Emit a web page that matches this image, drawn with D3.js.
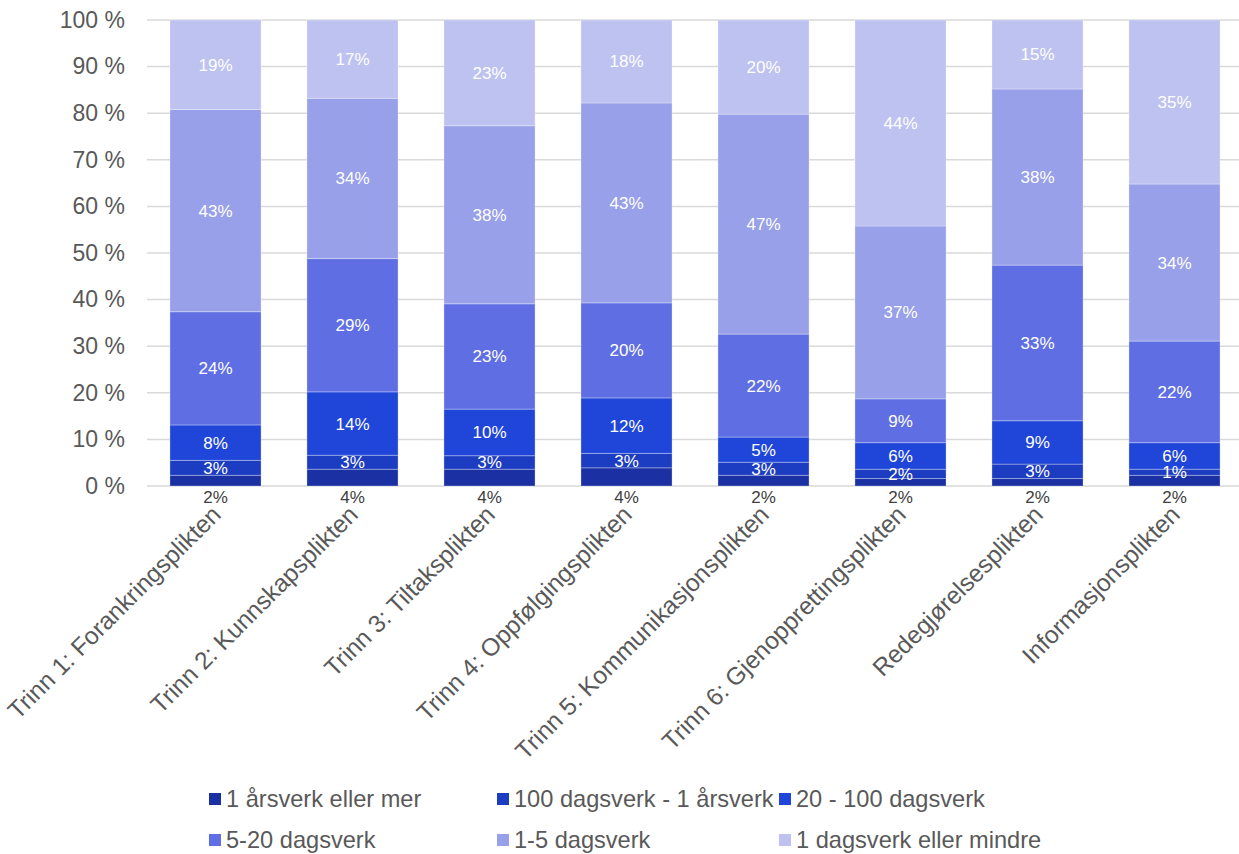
<!DOCTYPE html>
<html><head><meta charset="utf-8">
<script src="https://cdn.jsdelivr.net/npm/d3@7/dist/d3.min.js"></script>
<style>
body{margin:0;background:#fff;}
svg{display:block;font-family:"Liberation Sans",Arial,sans-serif;}
</style></head>
<body><svg id="chart" width="1239" height="854"></svg>
<script>
const categories = ["Trinn 1: Forankringsplikten","Trinn 2: Kunnskapsplikten","Trinn 3: Tiltaksplikten","Trinn 4: Oppfølgingsplikten","Trinn 5: Kommunikasjonsplikten","Trinn 6: Gjenopprettingsplikten","Redegjørelsesplikten","Informasjonsplikten"];
const seriesNames = ["1 årsverk eller mer","100 dagsverk - 1 årsverk","20 - 100 dagsverk","5-20 dagsverk","1-5 dagsverk","1 dagsverk eller mindre"];
const s1 = [2.3, 3.6, 3.6, 3.9, 2.3, 1.6, 1.6, 2.3];
const s2 = [3.2, 3.0, 2.9, 3.1, 2.8, 2.0, 3.1, 1.3];
const s3 = [7.6, 13.6, 10.0, 11.9, 5.4, 5.7, 9.3, 5.7];
const s4 = [24.3, 28.6, 22.6, 20.4, 22.1, 9.4, 33.4, 21.8];
const s5 = [43.4, 34.4, 38.2, 42.9, 47.2, 37.1, 37.8, 33.7];
const s6 = [19.2, 16.8, 22.7, 17.8, 20.2, 44.2, 14.8, 35.2];
const seriesValues = [s1, s2, s3, s4, s5, s6];
const colors = ["#1a30a3","#1c3cc2","#1f46d8","#5f6fe3","#97a0e8","#bec2f0"];
const yTicks = [0,10,20,30,40,50,60,70,80,90,100];

const svg = d3.select("#chart");
const y = d3.scaleLinear().domain([0,100]).range([486,20]);
const x = d3.scaleBand().domain(categories).range([147,1243]).paddingInner(0.335).paddingOuter(0.1675);

// gridlines
svg.append("g").selectAll("line").data(yTicks).join("line")
  .attr("x1",147).attr("x2",1239).attr("y1",d=>y(d)).attr("y2",d=>y(d))
  .attr("stroke","#d9d9d9").attr("stroke-width",1.5);

// y axis labels
const yAxis = svg.append("g").attr("transform","translate(125,0)")
  .call(d3.axisLeft(y).tickValues(yTicks).tickSize(0).tickPadding(0).tickFormat(d=>d+" %"));
yAxis.select(".domain").remove();
yAxis.selectAll("text").attr("font-size","23px").attr("fill","#595959").attr("font-family","Liberation Sans, Arial, sans-serif");

// stacked data
const rows = categories.map((c,i)=>{const o={cat:c}; seriesNames.forEach((s,j)=>o[s]=seriesValues[j][i]); return o;});
const stacked = d3.stack().keys(seriesNames)(rows);

const g = svg.append("g");
stacked.forEach((layer,j)=>{
  g.append("g").selectAll("rect").data(layer).join("rect")
    .attr("x",d=>x(d.data.cat)).attr("width",x.bandwidth())
    .attr("y",d=>y(d[1])).attr("height",d=>y(d[0])-y(d[1]))
    .attr("fill",colors[j]).attr("stroke","rgba(255,255,255,0.3)").attr("stroke-width",1);
});
// labels
stacked.forEach((layer,j)=>{
  g.append("g").selectAll("text").data(layer).join("text")
    .attr("x",d=>x(d.data.cat)+x.bandwidth()/2)
    .attr("y",d=> j===0 ? 497 : (y(d[0])+y(d[1]))/2)
    .attr("dy","0.35em").attr("text-anchor","middle")
    .attr("font-size","17px")
    .attr("fill", j===0 ? "#404040" : "#ffffff")
    .text(d=>Math.round(d[1]-d[0])+"%");
});

// x labels
svg.append("g").selectAll("text").data(categories).join("text")
  .attr("transform",d=>`translate(${x(d)+x.bandwidth()/2+7},516) rotate(-45)`)
  .attr("text-anchor","end").attr("font-size","24.5px").attr("fill","#595959")
  .text(d=>d);

// legend
const legendPos = [[209,799],[497,799],[779,799],[209,840],[497,840],[779,840]];
const lg = svg.append("g").selectAll("g").data(seriesNames).join("g")
  .attr("transform",(d,i)=>`translate(${legendPos[i][0]},${legendPos[i][1]})`);
lg.append("rect").attr("x",0).attr("y",-6).attr("width",12).attr("height",12).attr("fill",(d,i)=>colors[i]);
lg.append("text").attr("x",17).attr("dy","0.35em").attr("font-size","23.6px").attr("fill","#595959").text(d=>d);
</script></body></html>
